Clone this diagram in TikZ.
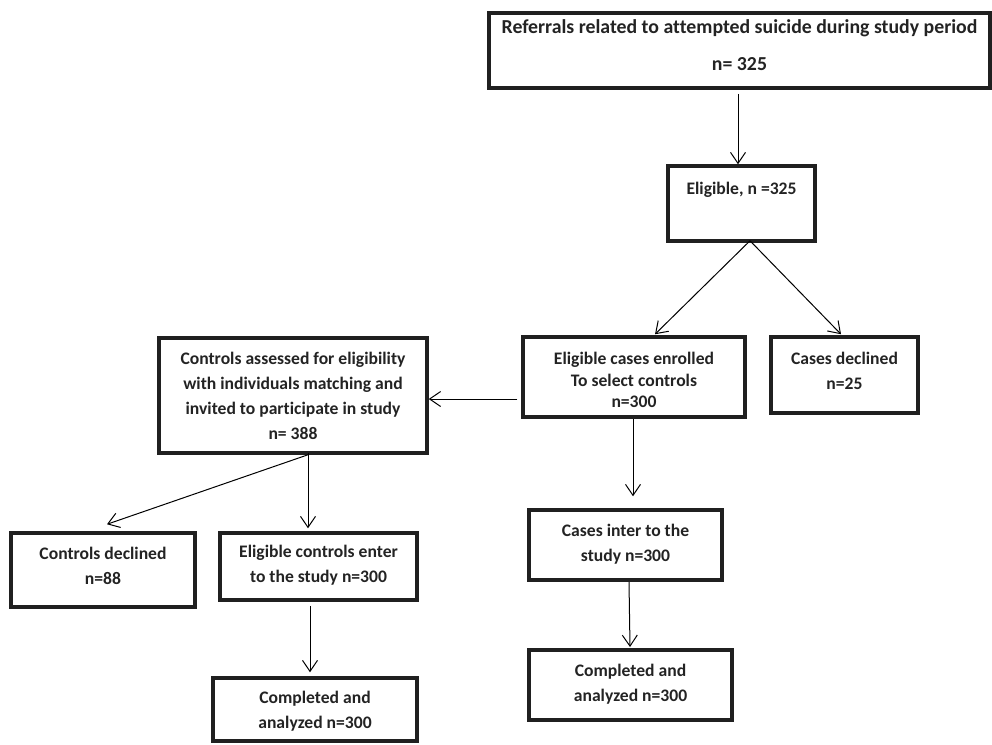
\documentclass[tikz,border=0pt]{standalone}
\usepackage{fontspec}
\setmainfont{Carlito}[Ligatures={NoCommon}]
\usetikzlibrary{arrows.meta,calc}
\definecolor{ink}{RGB}{35,35,35}
\tikzset{
  box/.style={draw=ink!90!black, line width=3.5pt, inner sep=0pt},
  txt/.style={text=ink, align=center, inner sep=0pt, font=\bfseries\fontsize{17.6}{25}\selectfont},
  arr/.style={draw=black, line width=1pt, -{Straight Barb[length=11pt,width=15pt,line width=1pt]}}
}
\begin{document}
\begin{tikzpicture}[x=1pt,y=-1pt]
\useasboundingbox (0,0) rectangle (992,744);
% boxes
\node[box, minimum width=501pt, minimum height=75pt] (top) at (739.5,50.5) {};
\node[box, minimum width=147pt, minimum height=75pt] (elig) at (741.5,203.5) {};
\node[box, minimum width=222pt, minimum height=80pt] (enr) at (634,377) {};
\node[box, minimum width=147pt, minimum height=76pt] (dec) at (844.5,375) {};
\node[box, minimum width=268pt, minimum height=115pt] (ctrl) at (293,395.5) {};
\node[box, minimum width=184pt, minimum height=74pt] (cdec) at (103,570) {};
\node[box, minimum width=197pt, minimum height=67pt] (ectl) at (318.5,566.5) {};
\node[box, minimum width=204pt, minimum height=63pt] (compL) at (315,709.5) {};
\node[box, minimum width=193pt, minimum height=70pt] (inter) at (625.5,545) {};
\node[box, minimum width=203pt, minimum height=70pt] (compR) at (630.5,685) {};
% texts
\node[txt, font=\bfseries\fontsize{19.8}{37}\selectfont] (topT) at (739.5,45.5) {Referrals related to attempted suicide during study period\\n= 325};
\node[txt] (eligT) at (741.5,190) {Eligible, n =325};
\node[txt, font=\bfseries\fontsize{17.6}{21.5}\selectfont] (enrT) at (634,380) {Eligible cases enrolled\\To select controls\\n=300};
\node[txt] (decT) at (844.5,370.5) {Cases declined\\n=25};
\node[txt] (ctrlT) at (293,395.5) {Controls assessed for eligibility\\with individuals matching and\\invited to participate in study\\n= 388};
\node[txt] (cdecT) at (103,565.5) {Controls declined\\n=88};
\node[txt] (ectlT) at (318.5,565.5) {Eligible controls enter\\to the study n=300};
\node[txt] (compLT) at (315,711.5) {Completed and\\analyzed n=300};
\node[txt] (interT) at (625.5,544.5) {Cases inter to the\\study n=300};
\node[txt] (compRT) at (630.5,684.5) {Completed and\\analyzed n=300};
% connectors
\draw[arr] ($(top.south)+(-1.5,4)$) -- ($(elig.north)+(-3.5,0)$);
\draw[arr] ($(elig.south)+(8.5,-2)$) -- ($(enr.north)+(21,-1)$);
\draw[arr] ($(elig.south)+(8.5,-2)$) -- ($(dec.north)+(-3.5,-1)$);
\draw[arr] ($(enr.west)+(-4,22)$) -- ($(ctrl.east)+(0,3.5)$);
\draw[arr] ($(ctrl.south)+(15,-1.75)$) -- ($(ectl.north)+(-10.5,-3)$);
\draw[arr] ($(ctrl.south)+(15,0)$) -- ($(cdec.north)+(4,-7)$);
\draw[arr] ($(ectl.south)+(-8.5,4)$) -- ($(compL.north)+(-5,-4)$);
\draw[arr] ($(enr.south)+(-1,0.25)$) -- ($(inter.north)+(7.5,-12)$);
\draw[arr] ($(inter.south)+(3.5,0.25)$) -- ($(compR.north)+(-0.5,-1.25)$);
\end{tikzpicture}
\end{document}
